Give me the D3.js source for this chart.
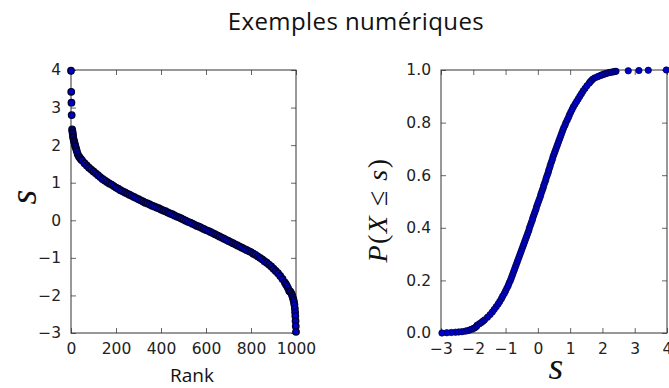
<!DOCTYPE html>
<html>
<head>
<meta charset="utf-8">
<script src="https://cdn.jsdelivr.net/npm/d3@7"></script>
<style>
  html, body { margin: 0; padding: 0; background: #fff; }
  svg { display: block; }
</style>
</head>
<body>
<svg id="chart" width="669" height="388"></svg>
<script>
// Sorted sample: rank (0 = largest) and the value s at that rank
const ranks = [0, 1, 2, 3, 5, 6, 7, 8, 9, 10, 12, 14, 16, 18, 20, 23, 26, 30, 35, 40, 45, 50,
  60, 70, 80, 90, 100, 110, 120, 130, 140, 150, 160, 170, 180, 190, 200, 210, 220, 230, 240,
  250, 260, 270, 280, 290, 300, 310, 320, 330, 340, 350, 360, 370, 380, 390, 400, 410, 420,
  430, 440, 450, 460, 470, 480, 490, 500, 510, 520, 530, 540, 550, 560, 570, 580, 590, 600,
  610, 620, 630, 640, 650, 660, 670, 680, 690, 700, 710, 720, 730, 740, 750, 760, 770, 780,
  790, 800, 810, 820, 830, 840, 850, 860, 870, 880, 890, 900, 910, 920, 930, 940, 950, 955,
  960, 965, 970, 975, 980, 983, 986, 989, 991, 993, 995, 996, 997, 998, 999, 1000];
const sValues = [3.98, 3.42, 3.13, 2.80, 2.42, 2.38, 2.33, 2.30, 2.24, 2.20, 2.14, 2.10, 2.05, 2.00,
  1.96, 1.90, 1.84, 1.76, 1.70, 1.66, 1.62, 1.59,
  1.52, 1.46, 1.40, 1.35, 1.30, 1.25, 1.20, 1.15, 1.10, 1.06, 1.02, 0.98, 0.95, 0.91, 0.87,
  0.84, 0.80, 0.77, 0.74, 0.71, 0.68, 0.65, 0.62, 0.59, 0.56, 0.53, 0.50, 0.47, 0.45, 0.42,
  0.39, 0.37, 0.34, 0.32, 0.29, 0.26, 0.24, 0.21, 0.18, 0.16, 0.13, 0.10, 0.08, 0.05, 0.02,
  -0.01, -0.04, -0.06, -0.09, -0.12, -0.15, -0.17, -0.20, -0.23, -0.26, -0.28, -0.31, -0.34,
  -0.37, -0.40, -0.43, -0.46, -0.49, -0.52, -0.55, -0.58, -0.61, -0.64, -0.67, -0.70, -0.73,
  -0.76, -0.79, -0.82, -0.85, -0.89, -0.92, -0.96, -1.00, -1.04, -1.09, -1.13, -1.18, -1.23,
  -1.29, -1.35, -1.41, -1.48, -1.56, -1.65, -1.70, -1.75, -1.81, -1.88, -1.90, -1.95, -2.00,
  -2.06, -2.12, -2.18, -2.25, -2.35, -2.45, -2.55, -2.68, -2.82, -2.97];
const sampleSize = 1000;

const rankTicks = [0, 200, 400, 600, 800, 1000];
const sTicks = [-3, -2, -1, 0, 1, 2, 3, 4];
const probTicks = [0, 0.2, 0.4, 0.6, 0.8, 1.0];

const titleText = "Exemples numériques";
const rankLabel = "Rank";

const points = ranks.map((r, i) => ({ rank: r, s: sValues[i], p: 1 - r / sampleSize }));

const svg = d3.select("#chart");
const dotFill = "#0000cc", dotStroke = "#000033", dotR = 3.2;

// Panel geometry
const left = { x0: 71, x1: 296, y0: 70, y1: 333 };
const right = { x0: 441, x1: 667, y0: 70, y1: 333 };

function framedAxes(g, box, xScale, yScale, xTicks, yTicks, xFmt, yFmt) {
  const fmtMinus = s => s.replace("-", "\u2212");
  g.append("g").attr("transform", `translate(0,${box.y1})`)
    .call(d3.axisBottom(xScale).tickValues(xTicks).tickSizeInner(-5).tickSizeOuter(0).tickPadding(10)
      .tickFormat(d => fmtMinus(xFmt(d))));
  g.append("g").attr("transform", `translate(0,${box.y0})`)
    .call(d3.axisTop(xScale).tickValues(xTicks).tickSizeInner(-5).tickSizeOuter(0).tickFormat(""));
  g.append("g").attr("transform", `translate(${box.x0},0)`)
    .call(d3.axisLeft(yScale).tickValues(yTicks).tickSizeInner(-5).tickSizeOuter(0).tickPadding(10)
      .tickFormat(d => fmtMinus(yFmt(d))));
  g.append("g").attr("transform", `translate(${box.x1},0)`)
    .call(d3.axisRight(yScale).tickValues(yTicks).tickSizeInner(-5).tickSizeOuter(0).tickFormat(""));
  g.selectAll(".domain").remove();
  g.selectAll(".tick line").attr("stroke", "#666");
  g.selectAll(".tick text")
    .style("font-family", "'DejaVu Sans', sans-serif")
    .style("font-size", "15.5px")
    .style("fill", "#222");
  g.append("rect")
    .attr("x", box.x0).attr("y", box.y0)
    .attr("width", box.x1 - box.x0).attr("height", box.y1 - box.y0)
    .attr("fill", "none").attr("stroke", "#333").attr("stroke-width", 1);
}

// Left panel: value against rank
const xRank = d3.scaleLinear().domain([0, 1000]).range([left.x0, left.x1]);
const yS = d3.scaleLinear().domain([-3, 4]).range([left.y1, left.y0]);
const gL = svg.append("g");
framedAxes(gL, left, xRank, yS, rankTicks, sTicks, d3.format("d"), d3.format("d"));
gL.append("g").selectAll("circle").data(points).join("circle")
  .attr("cx", d => xRank(d.rank)).attr("cy", d => yS(d.s)).attr("r", dotR)
  .attr("fill", dotFill).attr("stroke", dotStroke).attr("stroke-width", 1.4);

// Right panel: empirical distribution function
const xS = d3.scaleLinear().domain([-3, 4]).range([right.x0, right.x1]);
const yP = d3.scaleLinear().domain([0, 1]).range([right.y1, right.y0]);
const gR = svg.append("g");
framedAxes(gR, right, xS, yP, sTicks, probTicks, d3.format("d"), d3.format(".1f"));
gR.append("g").selectAll("circle").data(points).join("circle")
  .attr("cx", d => xS(d.s)).attr("cy", d => yP(d.p)).attr("r", dotR)
  .attr("fill", dotFill).attr("stroke", dotStroke).attr("stroke-width", 0.7);

// Title
svg.append("text").attr("x", 356).attr("y", 30).attr("text-anchor", "middle")
  .attr("font-family", "Open Sans, sans-serif").attr("font-size", 24).attr("letter-spacing", 0.4)
  .attr("fill", "#111").text(titleText);

// Left axis labels
svg.append("text").attr("x", 192).attr("y", 382).attr("text-anchor", "middle")
  .attr("font-family", "Open Sans, sans-serif").attr("font-size", 19).attr("fill", "#111")
  .text(rankLabel);
svg.append("text").attr("transform", "translate(36,197) rotate(-90)").attr("text-anchor", "middle")
  .attr("font-family", "Liberation Serif, serif").attr("font-style", "italic").attr("font-size", 38)
  .attr("fill", "#111").text("s");

// Right axis labels
svg.append("text").attr("x", 556).attr("y", 379).attr("text-anchor", "middle")
  .attr("font-family", "Liberation Serif, serif").attr("font-style", "italic").attr("font-size", 38)
  .attr("fill", "#111").text("s");
const yl = svg.append("text").attr("transform", "translate(387,210) rotate(-90)").attr("text-anchor", "middle")
  .attr("font-family", "Liberation Serif, serif").attr("font-size", 28).attr("letter-spacing", 1.5)
  .attr("fill", "#111");
yl.append("tspan").attr("font-style", "italic").text("P");
yl.append("tspan").text("(");
yl.append("tspan").attr("font-style", "italic").text("X");
yl.append("tspan").text(" \u2264 ");
yl.append("tspan").attr("font-style", "italic").text("s");
yl.append("tspan").text(")");
</script>
</body>
</html>
